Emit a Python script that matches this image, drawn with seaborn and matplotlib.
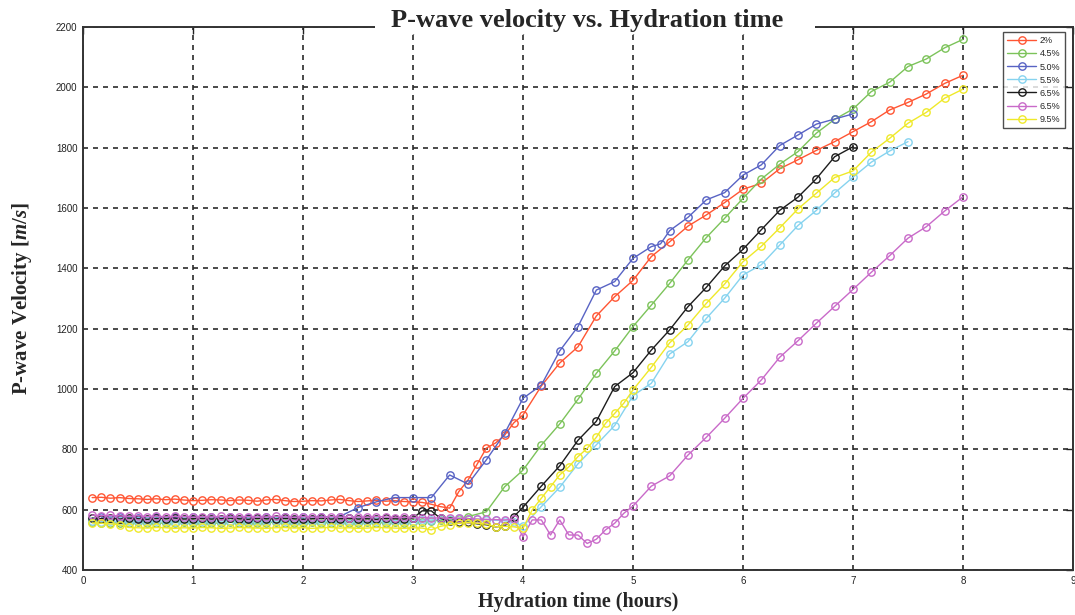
import numpy as np
import matplotlib
matplotlib.use("Agg")
import matplotlib.pyplot as plt
import seaborn as sns
from matplotlib.patches import Rectangle

# ---- sampling schedules (minutes after mixing) ----
MIN_5 = [5, 10, 15, 20, 25, 30, 35, 40, 45, 50, 55, 60,
         65, 70, 75, 80, 85, 90, 95, 100, 105, 110, 115, 120,
         125, 130, 135, 140, 145, 150, 155, 160, 165, 170, 175, 180,
         185, 190, 195, 200, 205, 210, 215, 220, 225, 230, 235, 240]
MIN_5_LATE = [245, 250, 255, 260, 265, 270, 275, 280, 285, 290, 295, 300]
MIN_10 = [250, 260, 270, 280, 290, 300, 310, 320, 330, 340, 350, 360,
          370, 380, 390, 400, 410, 420, 430, 440, 450, 460, 470, 480]
MIN_BLUE = [10, 20, 30, 40, 50, 60, 70, 80, 90, 100, 110, 120, 130, 140,
            150, 160, 170, 180, 190, 200, 210, 220, 230, 240, 250, 260, 270,
            280, 290, 300, 310, 315, 320, 330, 340, 350, 360, 370, 380, 390,
            400, 410, 420]
MIN_GREEN = MIN_5[:42] + [220, 230, 240] + MIN_10

# ---- P-wave velocity [m/s] ----
v_2 = [640, 641, 638, 640, 637, 636, 634, 636, 633, 635, 632, 630,
       631, 633, 632, 630, 632, 631, 628, 632, 634, 630, 627, 628,
       630, 629, 632, 634, 630, 627, 629, 631, 628, 630, 627, 626,
       624, 618, 610, 605, 660, 698, 751, 804, 821, 847, 888, 914,
       1010, 1086, 1140, 1242, 1306, 1360, 1439, 1488, 1540, 1577, 1618, 1662,
       1682, 1730, 1760, 1791, 1820, 1853, 1886, 1925, 1950, 1978, 2013, 2040]
v_45 = [558, 556, 557, 555, 556, 558, 557, 555, 556, 557, 558, 556,
        557, 555, 556, 558, 557, 556, 555, 557, 558, 556, 557, 556,
        558, 557, 556, 558, 557, 556, 558, 557, 556, 558, 557, 559,
        560, 562, 565, 567, 570, 577,
        593, 676, 731, 814, 884, 966, 1052, 1126, 1207, 1278, 1350, 1428,
        1502, 1566, 1632, 1696, 1745, 1787, 1848, 1894, 1928, 1986, 2017,
        2069, 2094, 2131, 2159]
v_50 = [575, 576, 574, 576, 575, 577, 575, 576, 574, 576, 575, 577,
        576, 577, 607, 626, 640, 640, 640, 715, 685, 765, 853, 969,
        1013, 1126, 1207, 1328, 1356, 1433, 1472, 1481, 1525, 1569, 1627,
        1651, 1709, 1743, 1807, 1842, 1878, 1895, 1912]
v_55 = [562, 560, 563, 561, 562, 564, 561, 563, 562, 560, 563, 562,
        561, 563, 562, 564, 561, 562, 563, 561, 562, 564, 563, 561,
        562, 563, 561, 562, 564, 562, 561, 563, 562, 564, 563, 562,
        565, 566, 568, 570, 571, 570, 568, 566, 565, 563, 560, 545,
        610, 674, 752, 815, 879, 978, 1019, 1116, 1157, 1234, 1301, 1378,
        1412, 1477, 1542, 1592, 1650, 1702, 1752, 1789, 1820]
v_65a = [572, 570, 571, 569, 572, 570, 568, 571, 570, 572, 569, 570,
         571, 569, 570, 572, 570, 568, 571, 570, 569, 571, 570, 568,
         570, 572, 569, 570, 571, 569, 570, 568, 571, 570, 569, 572,
         596, 596, 571, 562, 560, 558, 553, 550, 543, 546, 577, 608,
         678, 745, 830, 893, 1008, 1054, 1129, 1196, 1273, 1337, 1408, 1463,
         1528, 1592, 1636, 1697, 1770, 1803]
v_65b = [582, 580, 581, 579, 578, 580, 577, 579, 576, 578, 577, 575,
         577, 576, 578, 575, 576, 577, 575, 576, 578, 576, 575, 577,
         576, 575, 577, 576, 574, 576, 575, 577, 576, 574, 575, 573,
         574, 572, 573, 571, 572, 570, 569, 568, 567, 566, 568, 510,
         566, 566, 516, 566, 516, 516, 488, 502, 533, 555, 588, 612,
         678, 712, 781, 840, 903, 969, 1030, 1105, 1160, 1218, 1274, 1330,
         1387, 1442, 1500, 1538, 1590, 1637]
v_95 = [556, 555, 553, 550, 541, 540, 539, 541, 540, 538, 540, 539,
        541, 540, 538, 539, 541, 540, 539, 538, 540, 541, 539, 540,
        538, 540, 541, 539, 540, 538, 539, 541, 540, 539, 538, 540,
        539, 533, 545, 550, 555, 557, 555, 552, 543, 545, 543, 538,
        599, 638, 676, 715, 742, 776, 803, 840, 886, 919, 953, 997,
        1072, 1153, 1212, 1284, 1348, 1422, 1473, 1534, 1597, 1649, 1701, 1723,
        1785, 1831, 1881, 1917, 1964, 1994]

labels = ["2%", "4.5%", "5.0%", "5.5%", "6.5%", "6.5%", "9.5%"]
colors = ["#ff5533", "#7cc35a", "#5863c4", "#86d3ef", "#1c1c1c", "#c96ac9", "#efe92a"]
series = [
    (MIN_5 + MIN_10, v_2),
    (MIN_GREEN, v_45),
    (MIN_BLUE, v_50),
    (MIN_5 + MIN_10[:21], v_55),
    (MIN_5 + MIN_10[:18], v_65a),
    (MIN_5 + MIN_5_LATE + MIN_10[6:], v_65b),
    (MIN_5 + MIN_5_LATE + MIN_10[6:], v_95),
]

sns.set_style("white")
plt.rcParams["font.family"] = ["Liberation Sans", "DejaVu Sans"]
plt.rcParams["mathtext.fontset"] = "custom"
plt.rcParams["mathtext.it"] = "Liberation Serif:italic:bold"
plt.rcParams["mathtext.rm"] = "Liberation Serif:bold"

fig = plt.figure(figsize=(10.75, 6.15), dpi=100)
ax = fig.add_axes([83 / 1075, 45 / 615, 990 / 1075, 543 / 615])

for (mins, vals), lab, col in zip(series, labels, colors):
    hours = np.asarray(mins) / 60.0
    sns.lineplot(x=hours, y=vals, ax=ax, color=col, label=lab,
                 marker="o", markersize=5.3, markerfacecolor="none",
                 markeredgecolor=col, markeredgewidth=1.0, linewidth=1.0,
                 sort=False)

ax.set_xlim(0, 9)
ax.set_ylim(400, 2200)
ax.set_xticks(range(0, 10))
ax.set_yticks(range(400, 2201, 200))
ax.tick_params(direction="in", length=5, width=1, top=True, right=True,
               labelsize=7, pad=4, colors="#222222")
ax.grid(True, color="#2b2b2b", linestyle=(0, (3, 3)), linewidth=1.2)
for sp in ax.spines.values():
    sp.set_visible(True)
    sp.set_color("#333333")
    sp.set_linewidth(1.4)

serif_bold = dict(family="Liberation Serif", weight="bold")
ax.set_xlabel("Hydration time (hours)", fontsize=14.5, labelpad=5, **serif_bold)
ax.set_ylabel(r"P-wave Velocity [$m/s$]", fontsize=15, labelpad=16, **serif_bold)

# white gap in the top frame line behind the title
fig.patches.append(Rectangle((375 / 1075, 1 - 34 / 615), 440 / 1075, 30 / 615,
                             transform=fig.transFigure, facecolor="white",
                             edgecolor="none", zorder=5))
fig.text(587 / 1075, 1 - 20 / 615, "P-wave velocity vs. Hydration time",
         ha="center", va="center", fontsize=19, zorder=6, **serif_bold)

leg = ax.legend(loc="upper right", bbox_to_anchor=(0.992, 0.991), fontsize=6.5,
                frameon=True, fancybox=False, edgecolor="#222222",
                handlelength=3.2, handletextpad=0.4, labelspacing=0.45,
                borderpad=0.5, borderaxespad=0)
leg.get_frame().set_linewidth(1.0)

fig.savefig("out.png", dpi=100, facecolor="white")
